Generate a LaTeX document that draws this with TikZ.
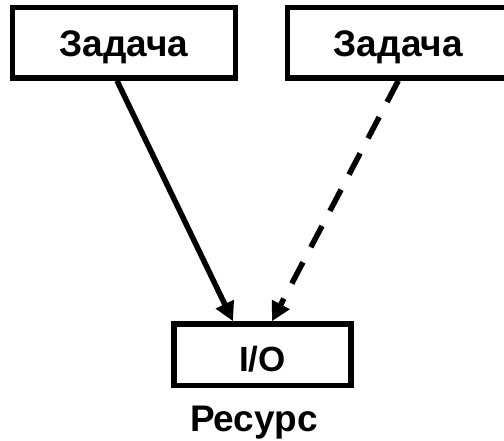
\documentclass[tikz,border=0pt]{standalone}
\usepackage{fontspec}
\setmainfont{Liberation Sans}
\usetikzlibrary{arrows.meta}
\begin{document}
\begin{tikzpicture}[x=1pt,y=-1pt,
  box/.style={draw=black,line width=5.5pt,inner sep=0pt,font=\fontsize{37}{42}\selectfont\bfseries},
  conn/.style={line width=5.5pt,-{Triangle[length=19pt,width=19pt]}},
  dashconn/.style={conn,dash pattern=on 24pt off 17pt}]
\useasboundingbox (0,0) rectangle (504,441);
\node[box,minimum width=223pt,minimum height=70.5pt,text height=27.5pt,text depth=0pt] (t1) at (124,42.75) {Задача};
\node[box,minimum width=221.5pt,minimum height=70.5pt,text height=27.5pt,text depth=0pt] (t2) at (398.25,42.75) {Задача};
\node[box,font=\fontsize{35}{40}\selectfont\bfseries,minimum width=177pt,minimum height=61.5pt,text height=34pt,text depth=0pt] (io) at (262.5,354.75) {I/O};
\node[font=\fontsize{37}{42}\selectfont\bfseries,anchor=base,inner sep=0pt] (res) at (254,431.5) {Ресурс};
\coordinate (s1) at ([xshift=-7pt]t1.south);
\coordinate (e1) at ([xshift=-29.5pt]io.north);
\coordinate (s2) at ([xshift=0pt]t2.south);
\coordinate (e2) at ([xshift=9.5pt]io.north);
\draw[conn] (s1) -- (e1);
\draw[dashconn] (s2) -- (e2);
\end{tikzpicture}
\end{document}
